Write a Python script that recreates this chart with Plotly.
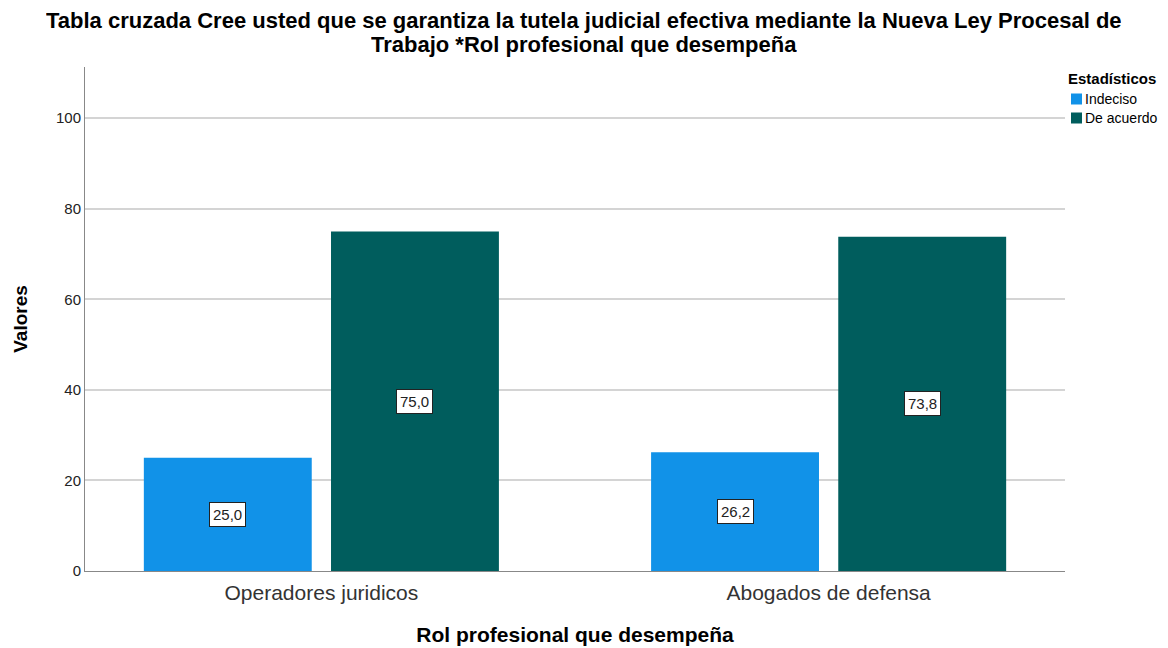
import plotly.graph_objects as go

categories = ["Operadores juridicos", "Abogados de defensa"]
series_names = ["Indeciso", "De acuerdo"]
indeciso = [25.0, 26.2]
de_acuerdo = [75.0, 73.8]
labels_indeciso = ["25,0", "26,2"]
labels_acuerdo = ["75,0", "73,8"]
y_ticks = [0, 20, 40, 60, 80, 100]
title_lines = ["Tabla cruzada Cree usted que se garantiza la tutela judicial efectiva mediante la Nueva Ley Procesal de",
               "Trabajo *Rol profesional que desempeña"]
legend_title = "Estadísticos"

colors = ["#1192e8", "#005d5d"]
bar_w = 0.331
offsets = [-0.35, 0.019]

FONT = "Liberation Sans, Arial, sans-serif"
# plot area in screen px (page has an 8px body margin)
PL, PR, PT, PB = 85, 1065, 67, 571
def px(x):
    return (x - PL) / (PR - PL)
def py(y):
    return (PB - y) / (PB - PT)

fig = go.Figure()
xs = list(range(len(categories)))
for name, vals, col, off in zip(series_names, [indeciso, de_acuerdo], colors, offsets):
    fig.add_trace(go.Bar(x=xs, y=vals, name=name, marker_color=col,
                         marker_line_width=0, width=bar_w, offset=off, showlegend=False))

for vals, labs, off in zip([indeciso, de_acuerdo], [labels_indeciso, labels_acuerdo], offsets):
    for i, (v, t) in enumerate(zip(vals, labs)):
        fig.add_annotation(x=i + off + bar_w / 2, y=v / 2, text=t, showarrow=False,
                           bgcolor="white", bordercolor="#222", borderwidth=1, borderpad=3,
                           font=dict(family=FONT, size=15, color="#222"))

# title (two lines, tight spacing)
for line, yc in zip(title_lines, [20, 44.5]):
    fig.add_annotation(xref="paper", yref="paper", x=px(584), y=py(yc), xanchor="center", yanchor="middle",
                       text=f"<b>{line}</b>", showarrow=False, height=25,
                       font=dict(family=FONT, size=22, color="#000"))

# legend
fig.add_annotation(xref="paper", yref="paper", x=px(1066), y=py(78), xanchor="left", yanchor="middle",
                   text=f"<b>{legend_title}</b>", showarrow=False,
                   font=dict(family=FONT, size=15, color="#000"))
for name, col, yc in zip(series_names, colors, [99, 118]):
    fig.add_shape(type="rect", xref="paper", yref="paper", x0=px(1071), x1=px(1082),
                  y0=py(yc + 5.5), y1=py(yc - 5.5), fillcolor=col, line_width=0)
    fig.add_annotation(xref="paper", yref="paper", x=px(1083), y=py(yc), xanchor="left", yanchor="middle",
                       text=name, showarrow=False, font=dict(family=FONT, size=14, color="#000"))

fig.update_layout(
    width=1160, height=640,
    margin=dict(l=PL - 8, r=1168 - PR, t=PT - 8, b=648 - PB, autoexpand=False),
    plot_bgcolor="white", paper_bgcolor="white",
    barmode="overlay",
    font=dict(family=FONT, color="#222"),
    showlegend=False,
    xaxis=dict(tickmode="array", tickvals=xs, ticktext=categories, range=[-0.466, 1.466],
               showline=True, linecolor="#888", linewidth=1, showgrid=False,
               tickfont=dict(size=21, color="#333"), ticks="", ticklabelstandoff=3,
               title=dict(text="<b>Rol profesional que desempeña</b>", font=dict(size=21, color="#000"),
                          standoff=24)),
    yaxis=dict(range=[0, 111.3], tickvals=y_ticks, showline=True, linecolor="#888", linewidth=1,
               showgrid=True, gridcolor="#d4d4d4", gridwidth=1.5, zeroline=False,
               tickfont=dict(size=15, color="#222"), ticks="",
               title=dict(text="<b>Valores</b>", font=dict(size=19, color="#000"), standoff=23)),
)

fig.write_html("out.html")
